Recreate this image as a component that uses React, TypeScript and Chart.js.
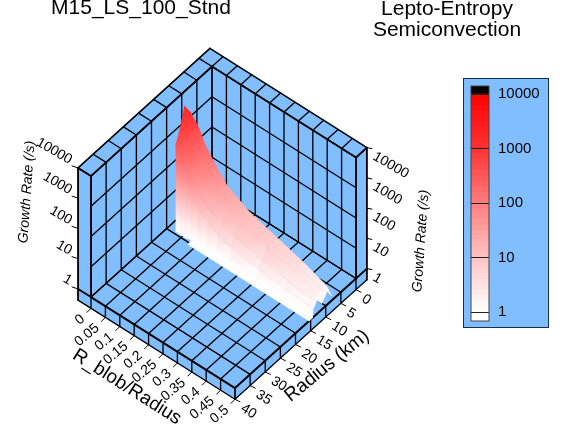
import React, { useEffect, useRef } from "react";
import { Chart, registerables } from "chart.js";

Chart.register(...registerables);

// ---- data ----
const radiusTicks = [0, 5, 10, 15, 20, 25, 30, 35, 40];
const ratioTicks = [0, 0.05, 0.1, 0.15, 0.2, 0.25, 0.3, 0.35, 0.4, 0.45, 0.5];
const ratioLabels = ["0", "0.05", "0.1", "0.15", "0.2", "0.25", "0.3", "0.35", "0.4", "0.45", "0.5"];
const growthTicks = [1, 10, 100, 1000, 10000];

const surfaceRatio = [0.024, 0.04, 0.06, 0.08, 0.1, 0.135, 0.17, 0.215, 0.31, 0.4, 0.48, 0.5];
const surfaceRadius = [8, 9.5, 11.3, 13, 14.2, 14.4, 15.5];
// log10(growth rate), one row per surfaceRadius
const growthRow0 = [3.1, 2.9, 2.5, 2.25, 2.0, 1.62, 1.43, 1.2, 0.93, 0.67, 0.38, 0.15];
const growthRow1 = [3.5, 3.0, 2.5, 2.2, 1.95, 1.6, 1.4, 1.2, 0.95, 0.7, 0.42, 0.45];
const growthRow2 = [3.85, 3.05, 2.35, 2.0, 1.75, 1.45, 1.3, 1.15, 0.9, 0.65, 0.42, 0.2];
const growthRow3 = [3.2, 2.7, 2.1, 1.7, 1.45, 1.15, 1.0, 0.85, 0.65, 0.5, 0.4, 0.45];
const growthRow4 = [2.85, 2.55, 2.0, 1.55, 1.25, 0.95, 0.75, 0.6, 0.45, 0.35, 0.3, 0.25];
const growthRow5 = [0, 0, 0, 0.05, 0.15, 0.2, 0.22, 0.22, 0.2, 0.2, 0.15, 0];
const growthRow6 = [null, null, null, 0, 0, 0, 0, 0, 0, 0, 0, 0];
const growthRows = [growthRow0, growthRow1, growthRow2, growthRow3, growthRow4, growthRow5, growthRow6];

// ---- style ----
const BLUE = "#80BEFF";
const FONT = "'Liberation Sans', Arial, sans-serif";
const colorStops = [255, 195, 125, 50, 0]; // green/blue channel at log10 = 0..4
const surfaceLevels = [0, 0.3, 0.7, 1.2, 2, 3, 4];
const surfaceChannel = [255, 250, 222, 188, 132, 72, 30];
const WALL_X = -0.045;
const WALL_Y = -3.6;
const SLAB_Z = -0.37;

const chan = (z: number) => {
  const c = Math.max(0, Math.min(3.9999, z));
  const i = Math.floor(c);
  return colorStops[i] + (colorStops[i + 1] - colorStops[i]) * (c - i);
};
const redOf = (z: number) => {
  const g = Math.round(chan(z));
  return `rgb(255,${g},${g})`;
};
const surfaceShade = (z: number) => {
  let i = 0;
  while (i < surfaceLevels.length - 2 && z > surfaceLevels[i + 1]) i++;
  const t = Math.max(0, Math.min(1, (z - surfaceLevels[i]) / (surfaceLevels[i + 1] - surfaceLevels[i])));
  const g = Math.round(surfaceChannel[i] + (surfaceChannel[i + 1] - surfaceChannel[i]) * t);
  return `rgb(255,${g},${g})`;
};

// oblique view of (ratio, radius km, log10 growth) on the page
const P = (x: number, y: number, z: number) => ({
  x: 212 + 288 * x - 3.025 * y,
  y: 187.5 + 182 * x + 2.74 * y - 30.25 * z,
});
type Pt = { x: number; y: number };

function buildMain(ctx: CanvasRenderingContext2D) {
  const painted: any[] = [];
  const poly = (pts: Pt[], color: any) =>
    painted.push({
      type: "line",
      data: [...pts, pts[0]],
      fill: "shape",
      backgroundColor: color,
      borderColor: color,
      borderWidth: 0.7,
      pointRadius: 0,
    });
  const line = (a: Pt, b: Pt, w = 1.35, color = "#000") =>
    painted.push({
      type: "line",
      data: [a, b],
      fill: false,
      borderColor: color,
      borderWidth: w,
      borderCapStyle: "round",
      pointRadius: 0,
    });

  const X1 = 0.5, Y1 = 40, Z1 = 4;
  // faces
  poly([P(0, 0, 0), P(0, Y1, 0), P(0, Y1, Z1), P(0, 0, Z1)], BLUE);
  poly([P(0, 0, 0), P(X1, 0, 0), P(X1, 0, Z1), P(0, 0, Z1)], BLUE);
  poly([P(WALL_X, WALL_Y, Z1), P(WALL_X, Y1, Z1), P(0, Y1, Z1), P(0, 0, Z1), P(X1, 0, Z1), P(X1, WALL_Y, Z1)], BLUE);
  poly([P(WALL_X, Y1, SLAB_Z), P(WALL_X, Y1, Z1), P(0, Y1, Z1), P(0, Y1, SLAB_Z)], BLUE);
  poly([P(X1, WALL_Y, SLAB_Z), P(X1, WALL_Y, Z1), P(X1, 0, Z1), P(X1, 0, SLAB_Z)], BLUE);
  poly([P(0, 0, 0), P(0, Y1, 0), P(X1, Y1, 0), P(X1, 0, 0)], BLUE);
  poly([P(0, Y1, SLAB_Z), P(X1, Y1, SLAB_Z), P(X1, Y1, 0), P(0, Y1, 0)], BLUE);
  poly([P(X1, 0, SLAB_Z), P(X1, Y1, SLAB_Z), P(X1, Y1, 0), P(X1, 0, 0)], BLUE);

  // floor grid and slab
  for (const x of ratioTicks) {
    line(P(x, 0, 0), P(x, Y1, 0), x === 0.5 ? 2 : 1.35);
    line(P(x, 0, 0), P(x, 0, Z1));
    line(P(x, 0, Z1), P(x, WALL_Y, Z1));
    line(P(x, Y1, 0), P(x, Y1, SLAB_Z));
  }
  for (const y of radiusTicks) {
    line(P(0, y, 0), P(X1, y, 0), y === 40 ? 2 : 1.35);
    line(P(0, y, 0), P(0, y, Z1));
    line(P(0, y, Z1), P(WALL_X, y, Z1));
    line(P(X1, y, 0), P(X1, y, SLAB_Z));
  }
  growthTicks.forEach((_, k) => {
    line(P(0, 0, k), P(0, Y1, k));
    line(P(0, 0, k), P(X1, 0, k));
  });
  // heavy outlines
  line(P(WALL_X, WALL_Y, Z1), P(WALL_X, Y1, Z1), 1.6);
  line(P(WALL_X, WALL_Y, Z1), P(X1, WALL_Y, Z1), 1.6);
  line(P(0, 0, Z1), P(0, Y1, Z1), 1.8);
  line(P(0, 0, Z1), P(X1, 0, Z1), 1.8);
  line(P(WALL_X, Y1, Z1), P(WALL_X, Y1, SLAB_Z), 1.8);
  line(P(0, Y1, Z1), P(0, Y1, 0), 1.8);
  line(P(X1, WALL_Y, Z1), P(X1, WALL_Y, SLAB_Z), 1.8);
  line(P(X1, 0, Z1), P(X1, 0, 0), 1.8);
  line(P(WALL_X, Y1, 0), P(0, Y1, 0), 1.8);
  line(P(X1, WALL_Y, 0), P(X1, 0, 0), 1.8);
  line(P(WALL_X, Y1, Z1), P(0, Y1, Z1), 1.8);
  line(P(X1, WALL_Y, Z1), P(X1, 0, Z1), 1.8);
  line(P(WALL_X, Y1, SLAB_Z), P(X1, Y1, SLAB_Z), 1.25);
  line(P(X1, WALL_Y, SLAB_Z), P(X1, Y1, SLAB_Z), 1.25);

  // ticks
  for (const x of ratioTicks) {
    const a = P(x, Y1, SLAB_Z);
    line(a, { x: a.x - 4, y: a.y + 4 }, 1);
  }
  for (const y of radiusTicks) {
    const a = P(X1, y, SLAB_Z);
    line(a, { x: a.x + 5, y: a.y + 2.5 }, 1);
  }
  growthTicks.forEach((_, k) => {
    const a = P(WALL_X, Y1, k);
    line(a, { x: a.x - 6, y: a.y - 2 }, 1);
    const b = P(X1, WALL_Y, k);
    line(b, { x: b.x + 5, y: b.y + 1 }, 1);
  });

  // surface, back to front
  for (let i = 0; i < surfaceRadius.length - 1; i++) {
    for (let j = 0; j < surfaceRatio.length - 1; j++) {
      const corners: [number, number][] = [[i, j], [i, j + 1], [i + 1, j + 1], [i + 1, j]];
      if (corners.some(([r, c]) => growthRows[r][c] == null)) continue;
      const pts = corners.map(([r, c]) => ({
        ...P(surfaceRatio[c], surfaceRadius[r], growthRows[r][c] as number),
        z: growthRows[r][c] as number,
      }));
      const top = pts.reduce((a, b) => (b.y < a.y ? b : a));
      const bot = pts.reduce((a, b) => (b.y > a.y ? b : a));
      const g = ctx.createLinearGradient(0, top.y, 0, Math.max(bot.y, top.y + 0.5));
      for (let s = 0; s <= 6; s++) {
        g.addColorStop(s / 6, surfaceShade(top.z + ((bot.z - top.z) * s) / 6));
      }
      poly(pts.map((p) => ({ x: p.x, y: p.y })), g);
    }
    if (i >= 3 && i <= 4) {
      for (let j = 4; j < surfaceRatio.length - 1; j++) {
        line(
          P(surfaceRatio[j], surfaceRadius[i], growthRows[i][j] as number),
          P(surfaceRatio[j + 1], surfaceRadius[i], growthRows[i][j + 1] as number),
          0.5,
          "rgba(120,120,170,0.12)"
        );
      }
    }
  }
  return painted.reverse();
}

type Label = { t: string; x: number; y: number; r: number; size: number; align: CanvasTextAlign; italic?: boolean };

function buildLabels(): Label[] {
  const out: Label[] = [
    { t: "M15_LS_100_Stnd", x: 141, y: 8, r: 0, size: 21, align: "center" },
    { t: "Lepto-Entropy", x: 447, y: 9, r: 0, size: 21, align: "center" },
    { t: "Semiconvection", x: 447, y: 30, r: 0, size: 21, align: "center" },
    { t: "R_blob/Radius", x: 127, y: 387, r: 32.4, size: 19, align: "center" },
    { t: "Radius (km)", x: 327, y: 366, r: -39, size: 19, align: "center" },
    { t: "Growth Rate (/s)", x: 27, y: 192, r: -86, size: 14, align: "center", italic: true },
    { t: "Growth Rate (/s)", x: 421, y: 241, r: -86, size: 14, align: "center", italic: true },
  ];
  ratioTicks.forEach((x, i) => {
    const a = P(x, 40, SLAB_Z);
    out.push({ t: ratioLabels[i], x: a.x - 8, y: a.y + 9, r: -40, size: 14, align: "right" });
  });
  radiusTicks.forEach((y) => {
    const a = P(0.5, y, SLAB_Z);
    out.push({ t: String(y), x: a.x + 7, y: a.y + 8, r: 32, size: 14, align: "left" });
  });
  growthTicks.forEach((v, k) => {
    const a = P(WALL_X, 40, k);
    out.push({ t: String(v), x: a.x - 7, y: a.y - 7, r: 30, size: 14, align: "right" });
    const b = P(0.5, WALL_Y, k);
    out.push({ t: String(v), x: b.x + 7, y: b.y + 8, r: 30, size: 14, align: "left" });
  });
  return out;
}

const textPlugin = {
  id: "pageText",
  afterDraw(chart: any) {
    const c = chart.ctx;
    c.save();
    c.fillStyle = "#000";
    c.textBaseline = "middle";
    for (const l of buildLabels()) {
      c.save();
      c.translate(l.x, l.y);
      c.rotate((l.r * Math.PI) / 180);
      c.font = `${l.italic ? "italic " : ""}${l.size}px ${FONT}`;
      c.textAlign = l.align;
      c.fillText(l.t, 0, 0);
      c.restore();
    }
    c.restore();
  },
};

const frameBar = {
  id: "frameBar",
  afterDraw(chart: any) {
    const { left, top, right, bottom } = chart.chartArea;
    const c = chart.ctx;
    c.save();
    c.strokeStyle = "#444";
    c.lineWidth = 1;
    c.strokeRect(left, top, right - left, bottom - top);
    c.restore();
  },
};

export default function App() {
  const mainRef = useRef<HTMLCanvasElement>(null);
  const barRef = useRef<HTMLCanvasElement>(null);

  useEffect(() => {
    const main = new Chart(mainRef.current as HTMLCanvasElement, {
      type: "line",
      data: { datasets: buildMain((mainRef.current as HTMLCanvasElement).getContext("2d") as any) },
      options: {
        responsive: false,
        animation: false,
        events: [],
        layout: { padding: 0 },
        plugins: { legend: { display: false }, tooltip: { enabled: false } },
        scales: {
          x: { type: "linear", min: 0, max: 563, display: false },
          y: { type: "linear", min: 0, max: 430, reverse: true, display: false },
        },
      },
      plugins: [textPlugin],
    } as any);

    const barMin = 0.684;
    const barMax = 14030;
    const bands: any[] = [
      { data: [[barMin, 1]], backgroundColor: "#fff" },
    ];
    const perDecade = 10;
    for (let k = 0; k < 4; k++) {
      for (let s = 0; s < perDecade; s++) {
        bands.push({
          data: [[barMin, Math.pow(10, k + (s + 1) / perDecade)]],
          backgroundColor: redOf(k + (s + 0.5) / perDecade),
        });
      }
    }
    bands.push({ data: [[barMin, barMax]], backgroundColor: "#000" });

    const bar = new Chart(barRef.current as HTMLCanvasElement, {
      type: "bar",
      data: {
        labels: ["Growth Rate"],
        datasets: bands.map((b) => ({ ...b, grouped: false, borderWidth: 0, categoryPercentage: 1, barPercentage: 1 })),
      },
      options: {
        responsive: false,
        animation: false,
        events: [],
        layout: { autoPadding: false, padding: { left: 7, top: 7, bottom: 6, right: 0 } },
        plugins: { legend: { display: false }, tooltip: { enabled: false } },
        scales: {
          x: { display: false },
          y: {
            type: "logarithmic",
            position: "right",
            min: barMin,
            max: barMax,
            afterBuildTicks: (s: any) => {
              s.ticks = growthTicks.map((v) => ({ value: v }));
            },
            afterFit: (s: any) => {
              s.width = 59;
              s.paddingTop = 0;
              s.paddingBottom = 0;
              if (s._margins) {
                s._margins.top = 0;
                s._margins.bottom = 0;
              }
            },
            border: { display: false },
            grid: { color: "#222", lineWidth: 1, z: 1, drawTicks: false },
            ticks: {
              autoSkip: false,
              maxRotation: 0,
              padding: 9,
              color: "#000",
              font: { family: FONT, size: 15 },
              callback: (v: any) => String(v),
            },
          },
        },
      },
      plugins: [frameBar],
    } as any);

    return () => {
      main.destroy();
      bar.destroy();
    };
  }, []);

  return (
    <div style={{ position: "fixed", left: 0, top: 0, width: 563, height: 430, background: "#fff", overflow: "hidden" }}>
      <canvas ref={mainRef} width={563} height={430} style={{ position: "absolute", left: 0, top: 0 }} />
      <div
        style={{
          position: "absolute",
          left: 463,
          top: 78,
          width: 86,
          height: 250,
          boxSizing: "border-box",
          background: BLUE,
          border: "1px solid #14304f",
        }}
      >
        <canvas ref={barRef} width={84} height={248} />
      </div>
    </div>
  );
}
